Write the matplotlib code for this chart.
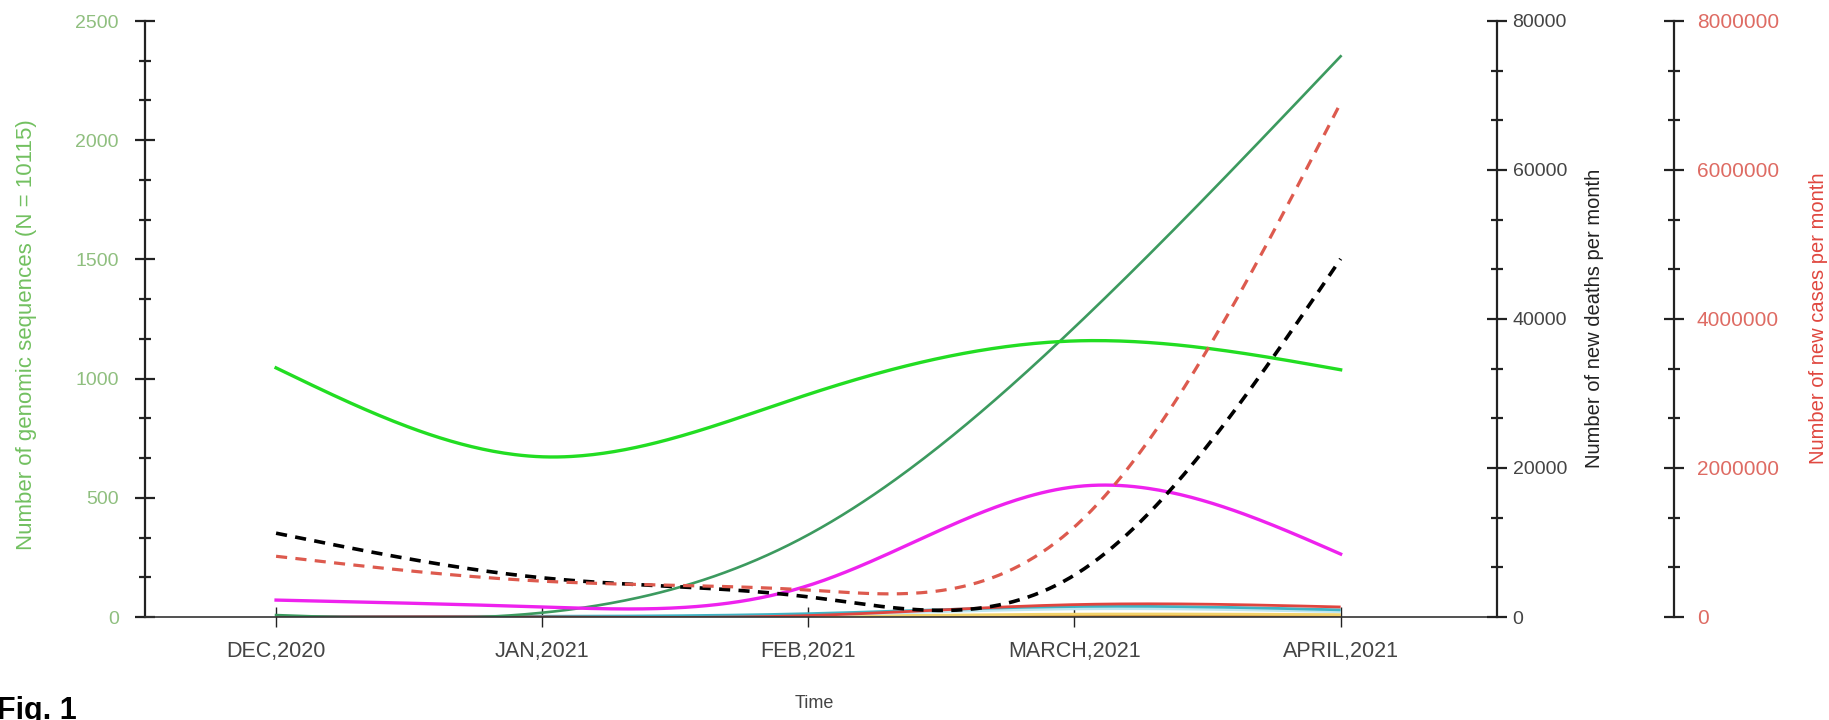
import numpy as np
import matplotlib
matplotlib.use("Agg")
import matplotlib.pyplot as plt
from matplotlib.ticker import FixedLocator
from matplotlib import font_manager

# ---------------- data ----------------
months = ["DEC,2020", "JAN,2021", "FEB,2021", "MARCH,2021", "APRIL,2021"]

seq_lime = [1045, 672, 934, 1158, 1037]
seq_darkgreen = [8, 18, 345, 1215, 2352]
seq_magenta = [71, 42, 132, 546, 264]
seq_red = [0, 0, 6, 52, 42]
seq_teal = [2, 3, 14, 44, 30]
seq_lightblue = [1, 2, 8, 34, 22]
seq_yellow = [0, 0, 3, 12, 10]
seq_orange = [0, 0, 1, 3, 3]

deaths = [11250, 5260, 2700, 5630, 48070]
cases = [815000, 481000, 362000, 1210000, 6900000]

seq_ticks = [0, 500, 1000, 1500, 2000, 2500]
death_ticks = [0, 20000, 40000, 60000, 80000]
case_ticks = [0, 2000000, 4000000, 6000000, 8000000]

# ---------------- fonts ----------------
def has_font(name):
    try:
        font_manager.findfont(name, fallback_to_default=False)
        return True
    except Exception:
        return False

base_font = "Liberation Sans" if has_font("Liberation Sans") else "DejaVu Sans"
narrow_font = "Liberation Sans Narrow" if has_font("Liberation Sans Narrow") else base_font
plt.rcParams["font.family"] = [base_font, "DejaVu Sans"]
plt.rcParams["lines.scale_dashes"] = False


def natural_spline(y, n=300):
    x = np.arange(len(y), dtype=float)
    y = np.asarray(y, dtype=float)
    k = len(x)
    h = np.diff(x)
    A = np.zeros((k, k))
    b = np.zeros(k)
    A[0, 0] = A[-1, -1] = 1.0
    for i in range(1, k - 1):
        A[i, i - 1] = h[i - 1]
        A[i, i] = 2 * (h[i - 1] + h[i])
        A[i, i + 1] = h[i]
        b[i] = 6 * ((y[i + 1] - y[i]) / h[i] - (y[i] - y[i - 1]) / h[i - 1])
    M = np.linalg.solve(A, b)
    xs = np.linspace(x[0], x[-1], n)
    idx = np.clip(np.searchsorted(x, xs, side="right") - 1, 0, k - 2)
    x0, x1 = x[idx], x[idx + 1]
    hh = x1 - x0
    a = x1 - xs
    bb = xs - x0
    ys = (M[idx] * a ** 3 / (6 * hh) + M[idx + 1] * bb ** 3 / (6 * hh)
          + (y[idx] - M[idx] * hh ** 2 / 6) * a / hh
          + (y[idx + 1] - M[idx + 1] * hh ** 2 / 6) * bb / hh)
    return xs, ys


W, H = 1829, 720
fig = plt.figure(figsize=(W / 100, H / 100), dpi=100)
ax_l, ax_r, ax_t, ax_b = 144.6, 1496.6, 21, 617
ax = fig.add_axes([ax_l / W, 1 - ax_b / H, (ax_r - ax_l) / W, (ax_b - ax_t) / H])
ax2 = ax.twinx()
ax3 = ax.twinx()

# ---------------- series ----------------
bottom_series = [
    (seq_orange, "#c8802a"),
    (seq_yellow, "#f2d36b"),
    (seq_lightblue, "#bfe6f0"),
    (seq_teal, "#3fb3c4"),
    (seq_red, "#e0453f"),
]
for vals, col in bottom_series:
    xs, ys = natural_spline(vals)
    ax.plot(xs, ys, color=col, lw=2.0, solid_capstyle="butt")

xs, ys = natural_spline(seq_darkgreen)
ax.plot(xs, ys, color="#3c9a5f", lw=1.9)
xs, ys = natural_spline(seq_lime)
ax.plot(xs, ys, color="#22dd22", lw=2.4)
xs, ys = natural_spline(seq_magenta)
ax.plot(xs, ys, color="#ee22ee", lw=2.4)

xs, ys = natural_spline(cases)
ax3.plot(xs, ys, color="#dd5a4e", lw=2.3, dashes=(8, 6))
xs, ys = natural_spline(deaths)
ax2.plot(xs, ys, color="black", lw=2.6, dashes=(8, 6))

# ---------------- axes ----------------
ax.set_xlim(-0.494, 4.586)
ax.set_ylim(seq_ticks[0], seq_ticks[-1])
ax2.set_ylim(death_ticks[0], death_ticks[-1])
ax3.set_ylim(case_ticks[0], case_ticks[-1])

for s in ["top", "right"]:
    ax.spines[s].set_visible(False)
for a in (ax2, ax3):
    for s in ["top", "left", "bottom"]:
        a.spines[s].set_visible(False)
    a.patch.set_visible(False)
ax3.spines["right"].set_position(("axes", 1 + (1674 - ax_r) / (ax_r - ax_l)))

spine_col = "#222222"
ax.spines["left"].set_color(spine_col)
ax.spines["left"].set_linewidth(1.6)
ax.spines["bottom"].set_color("#333333")
ax.spines["bottom"].set_linewidth(1.2)
for a in (ax2, ax3):
    a.spines["right"].set_color(spine_col)
    a.spines["right"].set_linewidth(1.6)

ax.set_xticks(range(len(months)))
ax.set_xticklabels(months)
ax.tick_params(axis="x", direction="inout", length=14, width=1.0, color="#222222",
               pad=10, labelsize=15.5, labelcolor="#444444")

def minor_of(ticks):
    step = (ticks[1] - ticks[0]) / 3.0
    return [ticks[0] + i * step for i in range(3 * (len(ticks) - 1) + 1)]

ax.set_yticks(seq_ticks)
ax.set_yticklabels([str(t) for t in seq_ticks])
ax.yaxis.set_minor_locator(FixedLocator(minor_of(seq_ticks)))
ax.tick_params(axis="y", which="major", direction="inout", length=15, width=1.6,
               color=spine_col, pad=11, labelsize=14, labelcolor="#8fbf7f")
ax.tick_params(axis="y", which="minor", direction="inout", length=8, width=1.6,
               color=spine_col)

ax2.set_yticks(death_ticks)
ax2.set_yticklabels([str(t) for t in death_ticks])
ax2.yaxis.set_minor_locator(FixedLocator(minor_of(death_ticks)))
ax2.tick_params(axis="y", which="major", direction="inout", length=15, width=1.6,
                color=spine_col, pad=4, labelsize=14, labelcolor="#444444")
ax2.tick_params(axis="y", which="minor", direction="inout", length=8, width=1.6,
                color=spine_col)

ax3.set_yticks(case_ticks)
ax3.set_yticklabels([str(t) for t in case_ticks])
ax3.yaxis.set_minor_locator(FixedLocator(minor_of(case_ticks)))
ax3.tick_params(axis="y", which="major", direction="inout", length=15, width=1.6,
                color=spine_col, pad=9, labelsize=15, labelcolor="#de6b63")
ax3.tick_params(axis="y", which="minor", direction="inout", length=8, width=1.6,
                color=spine_col)

# ---------------- labels ----------------
fig.text(27 / W, 1 - 335 / H, "Number of genomic sequences (N = 10115)", rotation=90,
         ha="center", va="center", fontsize=16, color="#72c060",
         family=[narrow_font, "DejaVu Sans"])
fig.text(1595 / W, 1 - 318 / H, "Number of new deaths per month", rotation=90,
         ha="center", va="center", fontsize=14.5, color="#222222",
         family=[narrow_font, "DejaVu Sans"])
fig.text(1818 / W, 1 - 318 / H, "Number of new cases per month", rotation=90,
         ha="center", va="center", fontsize=14.5, color="#e0473f",
         family=[narrow_font, "DejaVu Sans"])
fig.text(814 / W, 1 - 704 / H, "Time", ha="center", va="center", fontsize=13,
         color="#444444", family=[narrow_font, "DejaVu Sans"])
fig.text(-3 / W, 1 - 719 / H, "Fig. 1", ha="left", va="baseline", fontsize=22,
         fontweight="bold", color="black")

fig.savefig("out.png", dpi=100)
